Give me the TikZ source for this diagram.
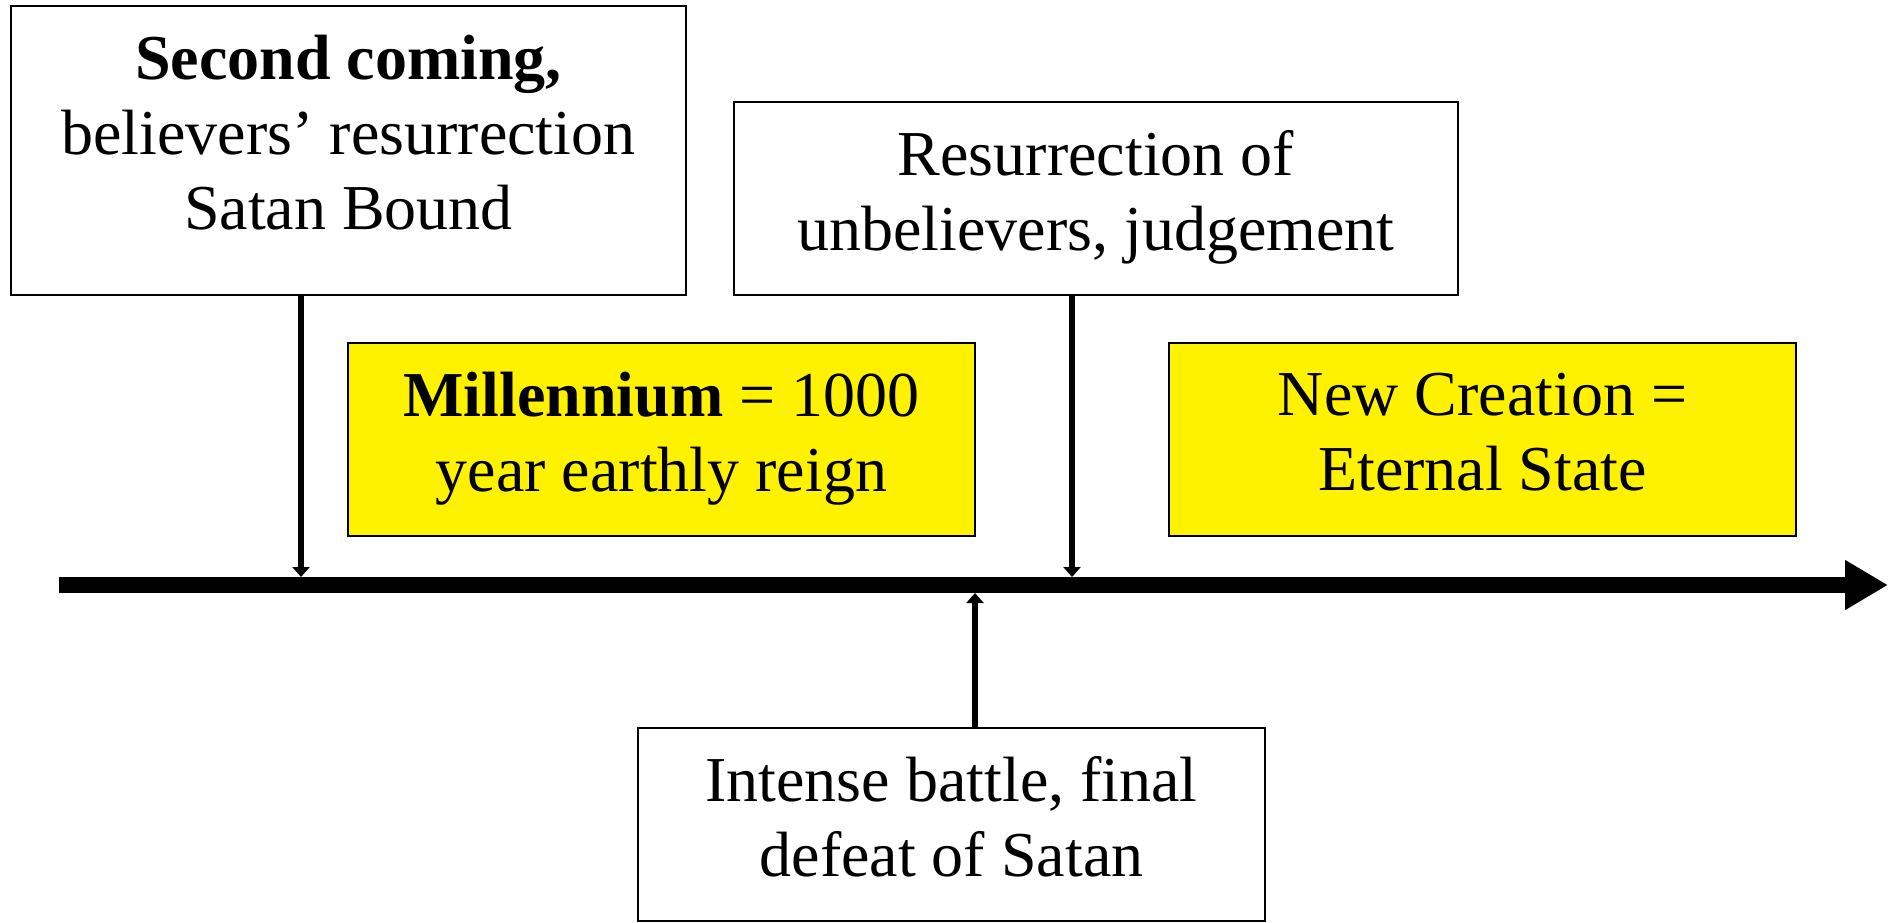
\documentclass[tikz,border=0pt]{standalone}
\usepackage{fontspec}
\setmainfont{Liberation Serif}
\usetikzlibrary{arrows.meta}

\begin{document}
\begin{tikzpicture}
		[x=0.5pt,y=-0.5pt,
		EventBox/.style={draw=black,line width=1.1pt,fill=white,align=center,inner sep=0pt,
			minimum height=96.5pt,font=\fontsize{32}{37.5}\selectfont},
		EraBox/.style={EventBox,fill=yellow,minimum width=313.5pt},
		Pointer/.style={line width=3pt,-{Triangle[length=5pt,width=8.5pt]}}]

		\useasboundingbox (0,0) rectangle (1888,922);

		% 时间轴
		\coordinate (tl_start) at (59,585);
		\coordinate (tl_end) at (1888,585);
		\draw[line width=8pt,-{Triangle[length=21.5pt,width=23.5pt]}](tl_start)--(tl_end);

		% 上方事件
		\node[EventBox,minimum width=337.5pt,minimum height=144.5pt,text depth=18pt] (second) at (348.5,150.5)
			{\textbf{Second coming,}\\believers’ resurrection\\Satan Bound};
		\node[EventBox,minimum width=362pt,text depth=8pt] (judge) at (1096,198.5)
			{Resurrection of\\unbelievers, judgement};

		% 时期
		\node[EraBox,text depth=8pt] (millennium) at (661.5,439.5)
			{\textbf{Millennium} = 1000\\year earthly reign};
		\node[EraBox,text depth=8pt] (eternal) at (1482.5,439.5)
			{New Creation =\\Eternal State};

		% 下方事件
		\node[EventBox,minimum width=313.5pt,text depth=8pt] (battle) at (951.5,824.5)
			{Intense battle, final\\defeat of Satan};

		% 指向时间轴的箭头
		\coordinate (p_second) at (301,577);
		\coordinate (p_judge) at (1072,577);
		\coordinate (p_battle) at (975,593);
		\draw[Pointer](second.south -| p_second)--(p_second);
		\draw[Pointer](judge.south -| p_judge)--(p_judge);
		\draw[Pointer](battle.north -| p_battle)--(p_battle);

	\end{tikzpicture}
\end{document}
